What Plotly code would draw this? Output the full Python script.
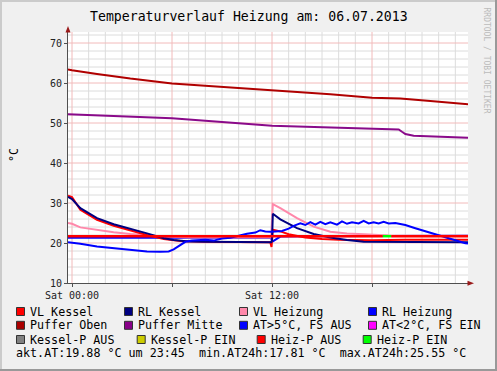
import plotly.graph_objects as go

# ---------------- data ----------------
title_text = "Temperaturverlauf Heizung am: 06.07.2013"
y_label = "°C"

tick_hours = [0, 6, 12, 18]
tick_text = ["Sat 00:00", "", "Sat 12:00", ""]
minor_hours = list(range(0, 24))
y_ticks = [10, 20, 30, 40, 50, 60, 70]
y_minor = list(range(12, 73, 2))

# VL Kessel
vlk_h = [-0.24, 0, 0.5, 1.5, 2.5, 3.5, 4.5, 5.5, 6.5, 8, 10, 11.9, 11.97, 12.05, 12.5, 13, 14, 15, 16, 18, 20, 23.76]
vlk_v = [31.8, 31.5, 28.3, 25.8, 24.3, 23.1, 22.0, 21.0, 20.5, 20.3, 20.2, 20.2, 19.0, 23.3, 22.9, 22.2, 21.4, 21.0, 20.8, 20.7, 20.8, 20.8]

# RL Kessel
rlk_h = [-0.24, 0, 0.5, 1.5, 2.5, 3.5, 4.5, 5.5, 6.1, 7, 8, 11.95, 12.0, 12.05, 12.5, 13.5, 14.5, 15.5, 16.5, 17.5, 20.3, 20.4, 23.76]
rlk_v = [31.5, 31.0, 28.7, 26.2, 24.7, 23.6, 22.4, 21.2, 20.75, 20.4, 20.3, 20.2, 20.5, 27.3, 25.9, 23.7, 22.25, 21.4, 20.75, 20.3, 20.2, 20.3, 20.2]

# VL Heizung
vlh_h = [-0.24, 0, 0.5, 1.5, 2.5, 3.5, 4.5, 5.5, 7, 11.95, 12.05, 12.5, 13.5, 14.5, 15.5, 16.5, 17.5, 19, 23.76]
vlh_v = [25.0, 24.8, 23.9, 23.25, 22.7, 22.25, 21.9, 21.6, 21.4, 21.4, 29.7, 28.7, 26.2, 24.1, 22.8, 22.4, 22.2, 21.9, 21.8]

# RL Heizung
rlh_h = [-0.24, 6, 11.95, 12.0, 12.5, 14, 18, 23.76]
rlh_v = [21.3, 21.3, 21.3, 20.3, 21.6, 21.7, 21.7, 21.8]

# Puffer Oben
po_h = [-0.24, 0, 1.5, 3.5, 6, 9.5, 12, 15.5, 18, 19.7, 21.5, 23.76]
po_v = [63.4, 63.2, 62.25, 61.1, 59.9, 58.9, 58.25, 57.2, 56.3, 56.1, 55.5, 54.7]

# Puffer Mitte
pm_h = [-0.24, 6, 12, 18, 19.6, 19.8, 20.0, 20.5, 21.5, 23.76]
pm_v = [52.2, 51.2, 49.3, 48.5, 48.4, 47.8, 47.25, 46.8, 46.6, 46.3]

# Aussentemperatur (AT)
at_h = [-0.24, 0, 0.5, 1.5, 2.5, 3.5, 4.5, 5.3, 5.8, 6.1, 6.5, 6.8, 7.2, 8, 8.5, 9, 9.5, 10, 10.5, 11, 11.3,
        11.6, 11.9, 12.2, 12.6, 13, 13.3, 13.7, 14, 14.3, 14.6, 14.9, 15.2, 15.5, 15.9, 16.2, 16.5, 16.8,
        17.2, 17.5, 17.8, 18.1, 18.4, 18.7, 19.0, 19.4, 20, 20.6, 21.6, 22.6, 23.6, 23.76]
at_v = [20.2, 20.1, 19.8, 19.1, 18.7, 18.25, 17.9, 17.81, 17.9, 18.4, 19.4, 20.3, 20.6, 20.8, 20.6, 21.1, 21.3, 21.8, 22.3, 22.6, 23.2,
        22.9, 22.8, 22.9, 23.0, 23.6, 24.3, 24.9, 24.5, 25.2, 24.6, 25.3, 24.7, 25.2, 24.6, 25.4, 24.8, 25.2,
        24.9, 25.55, 24.9, 25.2, 24.9, 25.3, 24.9, 25.0, 24.5, 23.7, 22.4, 21.2, 19.95, 19.88]

# Heiz-P status line
status_level = 21.7
status_h = [-0.24, 23.76]
heizp_on = [18.65, 19.15]

at_now, at_time, at_min, at_max = 19.88, "23:45", 17.81, 25.55

legend_rows = [
    [("VL Kessel", "#FF0000"), ("RL Kessel", "#000080"), ("VL Heizung", "#FF88AA"), ("RL Heizung", "#0000FF")],
    [("Puffer Oben", "#AA0000"), ("Puffer Mitte", "#880088"), ("AT>5°C, FS AUS", "#0000FF"), ("AT<2°C, FS EIN", "#FF00FF")],
    [("Kessel-P AUS", "#808080"), ("Kessel-P EIN", "#CCCC00"), ("Heiz-P AUS", "#FF0000"), ("Heiz-P EIN", "#00FF00")],
]

# ---------------- layout ----------------
W, H = 497, 371
L, R, T, B = 68, 468, 32, 283
X0, X1 = -0.24, 23.76
Y0, Y1 = 10, 10 + (B - T) / 4.0
MONO = "DejaVu Sans Mono"

def PX(px):
    return (px - L) / (R - L)

def PY(py):
    return (B - py) / (B - T)

fig = go.Figure()

def line(h, v, color, width=2.0):
    fig.add_trace(go.Scatter(x=h, y=v, mode="lines", line=dict(color=color, width=width),
                             showlegend=False, hoverinfo="skip", connectgaps=False))

grid_minor = "#DCDCDC"
grid_major = "#F2BABA"

# grid drawn as background line traces (minor first, then major)
gx, gy = [], []
for h in minor_hours:
    if h not in tick_hours:
        gx += [h, h, None]
        gy += [Y0, Y1, None]
for v in y_minor:
    if v not in y_ticks:
        gx += [X0, X1, None]
        gy += [v, v, None]
line(gx, gy, grid_minor, 1)
mx, my = [], []
for h in tick_hours:
    mx += [h, h, None]
    my += [Y0, Y1, None]
for v in y_ticks[1:]:
    mx += [X0, X1, None]
    my += [v, v, None]
line(mx, my, grid_major, 1)

line(po_h, po_v, "#B00000")
line(pm_h, pm_v, "#8A0A8A")
line(rlh_h, rlh_v, "#0000FF")
line(vlh_h, vlh_v, "#FF88AA")
line(vlk_h, vlk_v, "#FF0000")
line(rlk_h, rlk_v, "#000080")
line(at_h, at_v, "#0000FF")

# status line: red (AUS) except green segment (EIN)
red_x = [status_h[0], heizp_on[0], None, heizp_on[1], status_h[1]]
red_y = [status_level, status_level, None, status_level, status_level]
line(red_x, red_y, "#FF0000", 2.5)
line(heizp_on, [status_level, status_level], "#00FF00", 2.5)

axis_col = "#505050"

fig.update_layout(
    width=W, height=H,
    margin=dict(l=L, r=W - R, t=T, b=H - B, pad=0),
    paper_bgcolor="#F0F0F0",
    plot_bgcolor="#FFFFFF",
    font=dict(family=MONO, size=10, color="#000000"),
    xaxis=dict(range=[X0, X1], tickmode="array", tickvals=tick_hours, ticktext=tick_text,
               showgrid=False,
               showline=True, linecolor=axis_col, linewidth=1, ticks="outside", ticklen=3,
               tickcolor=axis_col, zeroline=False, tickfont=dict(family=MONO, size=10, color="#222")),
    yaxis=dict(range=[Y0, Y1], tickmode="array", tickvals=y_ticks,
               showgrid=False,
               showline=True, linecolor=axis_col, linewidth=1, ticks="outside", ticklen=3,
               tickcolor=axis_col, zeroline=False, tickfont=dict(family=MONO, size=10, color="#222")),
    showlegend=False,
)

shapes = []
# 3D border
shapes.append(dict(type="rect", xref="paper", yref="paper", x0=PX(0), x1=PX(2), y0=PY(H), y1=PY(0),
                   fillcolor="#CBCBCB", line=dict(width=0), layer="below"))
shapes.append(dict(type="rect", xref="paper", yref="paper", x0=PX(0), x1=PX(W), y0=PY(2), y1=PY(0),
                   fillcolor="#CBCBCB", line=dict(width=0), layer="below"))
shapes.append(dict(type="rect", xref="paper", yref="paper", x0=PX(W - 2), x1=PX(W), y0=PY(H), y1=PY(0),
                   fillcolor="#999999", line=dict(width=0), layer="below"))
shapes.append(dict(type="rect", xref="paper", yref="paper", x0=PX(0), x1=PX(W), y0=PY(H), y1=PY(H - 2),
                   fillcolor="#999999", line=dict(width=0), layer="below"))
# axis arrows
def tri(p1, p2, p3):
    return "M {} {} L {} {} L {} {} Z".format(PX(p1[0]), PY(p1[1]), PX(p2[0]), PY(p2[1]), PX(p3[0]), PY(p3[1]))
shapes.append(dict(type="path", xref="paper", yref="paper", path=tri((68, 26), (65.5, 32.5), (70.5, 32.5)),
                   fillcolor="#9A1A1A", line=dict(width=0)))
shapes.append(dict(type="path", xref="paper", yref="paper", path=tri((474, 283.3), (467.5, 280.8), (467.5, 285.8)),
                   fillcolor="#9A1A1A", line=dict(width=0)))

annotations = []
annotations.append(dict(text=title_text, x=PX(248.5), y=PY(16.5), xref="paper", yref="paper",
                        xanchor="center", yanchor="middle", showarrow=False,
                        font=dict(family=MONO, size=13.2, color="#000")))
annotations.append(dict(text=y_label, x=PX(14), y=PY(155), xref="paper", yref="paper",
                        xanchor="center", yanchor="middle", showarrow=False, textangle=-90,
                        font=dict(family=MONO, size=11.7, color="#000")))
annotations.append(dict(text="RRDTOOL / TOBI OETIKER", x=PX(486.5), y=PY(61), xref="paper", yref="paper",
                        xanchor="center", yanchor="middle", showarrow=False, textangle=90,
                        font=dict(family=MONO, size=8, color="#BBBBBB")))

# legend
row_y = [311.5, 325.3, 339.5]
col_sq = [[16, 124, 239, 368], [16, 124, 239, 368], [16, 136.7, 256.7, 362.7]]
LEG = 11.7
for r, row in enumerate(legend_rows):
    for c, (lab, col) in enumerate(row):
        sx = col_sq[r][c]
        yc = row_y[r]
        shapes.append(dict(type="rect", xref="paper", yref="paper", x0=PX(sx + 0.5), x1=PX(sx + 8.5),
                           y0=PY(yc + 4), y1=PY(yc - 4), fillcolor=col, line=dict(color="#333333", width=1)))
        annotations.append(dict(text=lab, x=PX(sx + 12), y=PY(yc), xref="paper", yref="paper",
                                xanchor="left", yanchor="middle", showarrow=False,
                                font=dict(family=MONO, size=LEG, color="#000")))
nb = "\u00a0"
stats = ("akt.AT:{:.2f}{}°C{}um{}{}".format(at_now, nb, nb, nb, at_time) + nb * 2 +
         "min.AT24h:{:.2f}{}°C".format(at_min, nb) + nb * 2 +
         "max.AT24h:{:.2f}{}°C".format(at_max, nb))
annotations.append(dict(text=stats, x=PX(14), y=PY(353), xref="paper", yref="paper",
                        xanchor="left", yanchor="middle", showarrow=False,
                        font=dict(family=MONO, size=LEG, color="#000")))

fig.update_layout(shapes=shapes, annotations=annotations)
fig.write_html("out.html", config={"displayModeBar": False},
               post_script="document.body.style.margin='0';document.body.style.padding='0';")
